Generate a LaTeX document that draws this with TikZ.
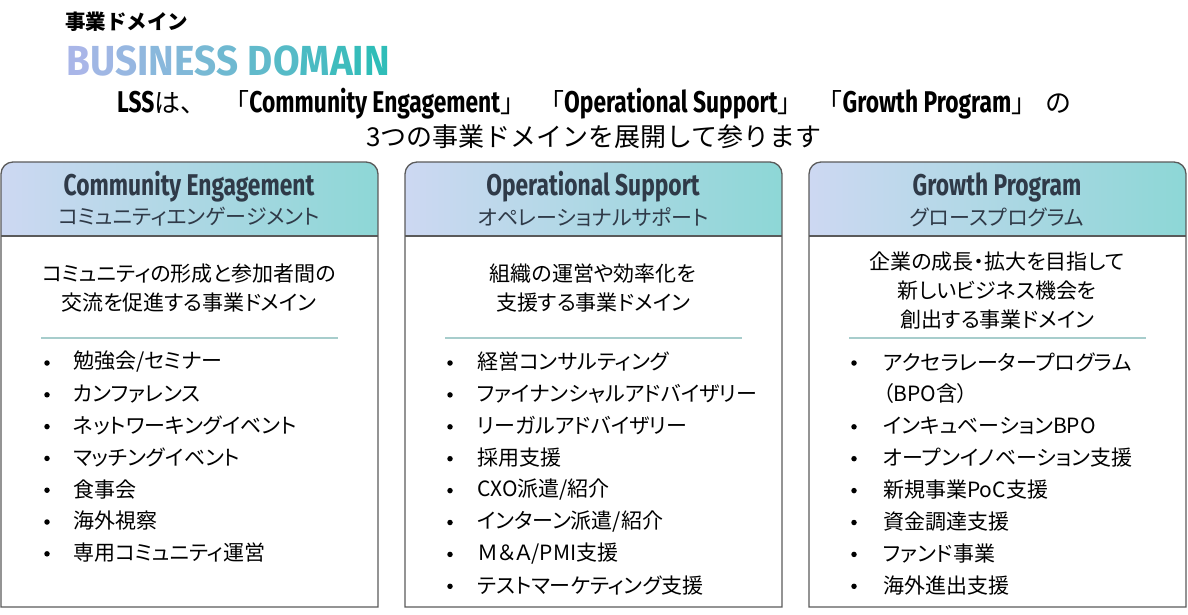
\documentclass[tikz,border=0pt]{standalone}
\usepackage{fontspec}
\usepackage{xcolor}
\usepackage{tikz}
\usetikzlibrary{positioning}

\setmainfont{Noto Sans CJK JP}
\newfontfamily\jpp{Noto Sans CJK JP}[RawFeature=+palt]
\newfontfamily\cond{Fira Sans}[FakeStretch=0.76]
\newfontfamily\wide{Fira Sans}[FakeStretch=0.92]

\definecolor{bdA}{HTML}{A9B6E8}
\definecolor{bdB}{HTML}{2BBDB6}
\definecolor{hdA}{HTML}{CDD8F2}
\definecolor{hdB}{HTML}{8DD7D6}
\definecolor{edge}{HTML}{5A5A5A}
\definecolor{sepline}{HTML}{A7CDCC}
\definecolor{hdtext}{HTML}{2F3A48}

\newcommand{\gl}[2]{\textcolor{bdA!#2!bdB}{#1}}
\newcommand{\lat}[1]{{\fontsize{30}{30}\selectfont\cond\bfseries #1}}

\begin{document}
\begin{tikzpicture}[x=1pt, y=-1pt,
  kicker/.style={anchor=west, inner sep=0, font=\fontsize{20.5}{22}\selectfont\bfseries},
  bigtitle/.style={anchor=west, inner sep=0, font=\fontsize{42}{44}\selectfont\wide\bfseries},
  lead/.style={inner sep=0, font=\fontsize{26}{30}\selectfont},
  hdtitle/.style={inner sep=0, text=hdtext, font=\fontsize{30}{32}\selectfont\cond\bfseries},
  hdsub/.style={inner sep=0, text=hdtext, font=\fontsize{21}{24}\selectfont\jpp},
  desc/.style={inner sep=0, align=center, font=\fontsize{21}{29}\selectfont\jpp},
  item/.style={anchor=west, inner sep=0, font=\fontsize{21}{24}\selectfont\jpp},
  dot/.style={circle, fill=black, inner sep=0, minimum size=5.5pt},
  boxedge/.style={draw=edge, line width=1.3pt},
  sep/.style={draw=sepline, line width=2pt},
]
\useasboundingbox (0,0) rectangle (1188,614);

% heading
\node[kicker] (kick) at (65,22) {事業ドメイン};
\node[bigtitle] (bd) at (66,61) {\gl{B}{100}\gl{U}{93}\gl{S}{86}\gl{I}{80}\gl{N}{75}\gl{E}{68}\gl{S}{61}\gl{S}{54}
  \gl{D}{43}\gl{O}{34}\gl{M}{25}\gl{A}{15}\gl{I}{9}\gl{N}{3}};
\node[lead, anchor=west] (lead1) at (117,104) {\lat{LSS}は、\hspace{17pt}「\lat{Community Engagement}」\hspace{12pt}「\lat{Operational Support}」\hspace{13pt}「\lat{Growth Program}」\hspace{8pt}の};
\node[lead] (lead2) at (594,137) {3つの事業ドメインを展開して参ります};

% three boxes
\foreach \x in {1,405,809} {
  \begin{scope}
    \clip (\x,607) {[rounded corners=12pt] -- (\x,162) -- ({\x+377},162)} -- ({\x+377},607) -- cycle;
    \shade[left color=hdA, right color=hdB] (\x,162) rectangle ({\x+377},236);
  \end{scope}
  \draw[boxedge] (\x,607) {[rounded corners=12pt] -- (\x,162) -- ({\x+377},162)} -- ({\x+377},607) -- cycle;
  \draw[boxedge] (\x,236) -- ({\x+377},236);
  \draw[sep] ({\x+40},338) -- ({\x+337},338);
}

% Community Engagement
\node[hdtitle] (ceT) at (189,187) {Community Engagement};
\node[hdsub, below=30pt of ceT.center, anchor=center] (ceS) {コミュニティエンゲージメント};
\node[desc] (ceD) at (189,288) {コミュニティの形成と参加者間の\\交流を促進する事業ドメイン};
\foreach \t [count=\i] in {勉強会/セミナー, カンファレンス, ネットワーキングイベント, マッチングイベント, 食事会, 海外視察, 専用コミュニティ運営} {
  \node[item] (ce\i) at (73,{362+31.8*(\i-1)}) {\t};
  \node[dot] (ceb\i) at (47,{363+31.8*(\i-1)}) {};
}

% Operational Support
\node[hdtitle] (osT) at (593,187) {Operational Support};
\node[hdsub, below=30pt of osT.center, anchor=center] (osS) {オペレーショナルサポート};
\node[desc] (osD) at (593,288) {組織の運営や効率化を\\支援する事業ドメイン};
\foreach \t [count=\i] in {経営コンサルティング, ファイナンシャルアドバイザリー, リーガルアドバイザリー, 採用支援, CXO派遣/紹介, インターン派遣/紹介, Ｍ＆Ａ/PMI支援, テストマーケティング支援} {
  \node[item] (os\i) at (477,{362+31.9*(\i-1)}) {\t};
  \node[dot] (osb\i) at (450,{363+31.9*(\i-1)}) {};
}

% Growth Program
\node[hdtitle] (gpT) at (997,187) {Growth Program};
\node[hdsub, below=30pt of gpT.center, anchor=center] (gpS) {グロースプログラム};
\node[desc] (gpD) at (997,291) {企業の成長・拡大を目指して\\新しいビジネス機会を\\創出する事業ドメイン};
\foreach \t/\b [count=\i] in {アクセラレータープログラム/1, （BPO含）/0, インキュベーションBPO/1, オープンイノベーション支援/1, 新規事業PoC支援/1, 資金調達支援/1, ファンド事業/1, 海外進出支援/1} {
  \node[item] (gp\i) at (883,{362+31.9*(\i-1)}) {\t};
  \ifnum\b=1 \node[dot] (gpb\i) at (854,{363+31.9*(\i-1)}) {}; \fi
}

\end{tikzpicture}
\end{document}
